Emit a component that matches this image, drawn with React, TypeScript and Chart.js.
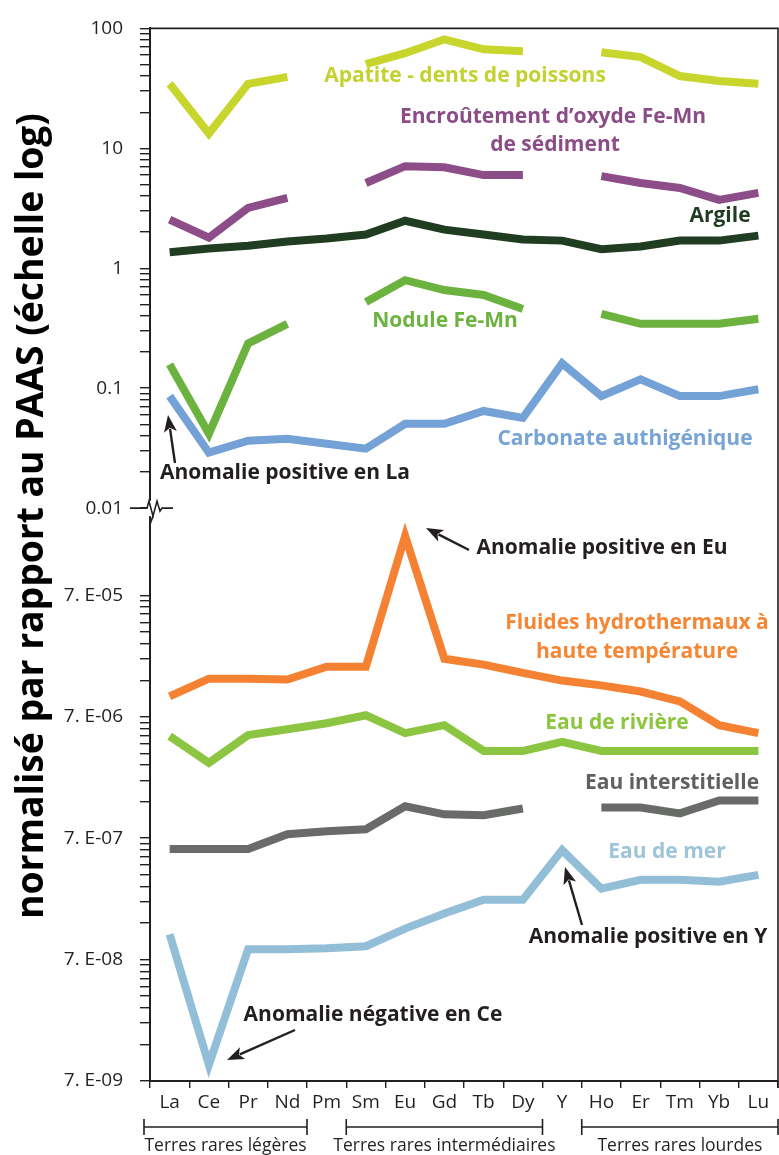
import React, { useEffect, useRef } from 'react';
import { Chart, registerables } from 'chart.js';

Chart.register(...registerables);

const FONT = '"Open Sans", "DejaVu Sans", sans-serif';
const INK = '#231f20';

// ---------- data ----------
const elements = ['La', 'Ce', 'Pr', 'Nd', 'Pm', 'Sm', 'Eu', 'Gd', 'Tb', 'Dy', 'Y', 'Ho', 'Er', 'Tm', 'Yb', 'Lu'];

// upper panel (0.01 – 100)
const apatite = [34.5, 13.3, 34.5, 39.4, null, 50.4, 62.1, 81.1, 67.0, 64.5, null, 63.3, 57.6, 40.1, 36.5, 34.5];
const encroutement = [2.54, 1.8, 3.19, 3.86, null, 5.14, 7.1, 6.95, 5.98, 5.98, null, 5.87, 5.14, 4.67, 3.72, 4.25];
const argile = [1.36, 1.46, 1.54, 1.67, 1.77, 1.91, 2.49, 2.1, 1.91, 1.74, 1.7, 1.44, 1.52, 1.7, 1.7, 1.87];
const nodule = [0.158, 0.0417, 0.236, 0.344, null, 0.524, 0.796, 0.658, 0.598, 0.458, null, 0.417, 0.344, 0.344, 0.344, 0.379];
const carbonate = [0.0859, 0.029, 0.0365, 0.0379, 0.0344, 0.0313, 0.0504, 0.0504, 0.0646, 0.0565, 0.161, 0.0859, 0.1186, 0.0859, 0.0859, 0.0981];

// lower panel (7E-09 – ...)
const fluides = [1.03e-5, 1.44e-5, 1.44e-5, 1.42e-5, 1.81e-5, 1.81e-5, 2.16e-4, 2.1e-5, 1.88e-5, 1.61e-5, 1.39e-5, 1.27e-5, 1.13e-5, 9.37e-6, 5.97e-6, 5.13e-6];
const riviere = [4.85e-6, 2.92e-6, 4.94e-6, 5.53e-6, 6.19e-6, 7.2e-6, 5.13e-6, 5.97e-6, 3.66e-6, 3.66e-6, 4.34e-6, 3.66e-6, 3.66e-6, 3.66e-6, 3.66e-6, 3.66e-6];
const interstitielle = [5.69e-7, 5.69e-7, 5.69e-7, 7.55e-7, 7.98e-7, 8.29e-7, 1.28e-6, 1.1e-6, 1.08e-6, 1.23e-6, null, 1.25e-6, 1.25e-6, 1.12e-6, 1.43e-6, 1.43e-6];
const eauMer = [1.13e-7, 9.5e-9, 8.53e-8, 8.53e-8, 8.69e-8, 9.02e-8, 1.26e-7, 1.68e-7, 2.18e-7, 2.18e-7, 5.59e-7, 2.69e-7, 3.18e-7, 3.18e-7, 3.06e-7, 3.49e-7];

// axis ticks
const upperMajorTicks = [0.01, 0.1, 1, 10, 100];
const upperTickLabels = ['0.01', '0.1', '1', '10', '100'];
const lowerMajorTicks = [7e-9, 7e-8, 7e-7, 7e-6, 7e-5];
const lowerTickLabels = ['7. E-09', '7. E-08', '7. E-07', '7. E-06', '7. E-05'];
const minorMultipliers = [2, 3, 4, 5, 6, 7, 8, 9];
const upperRange = [0.01, 100];
const lowerRange = [7e-9, 3.66e-4];

const yTitle = 'normalisé par rapport au PAAS (échelle log)';

const groupLabels = ['Terres rares légères', 'Terres rares intermédiaires', 'Terres rares lourdes'];
const groupFrom = [0, 5, 11];
const groupTo = [3, 9, 15];

// ---------- presentation ----------
const series = [
  { label: 'Apatite - dents de poissons', data: apatite, color: '#c8d52c', axis: 'yHigh' },
  { label: 'Encroûtement d’oxyde Fe-Mn de sédiment', data: encroutement, color: '#8c4d88', axis: 'yHigh' },
  { label: 'Argile', data: argile, color: '#203d21', axis: 'yHigh' },
  { label: 'Nodule Fe-Mn', data: nodule, color: '#6cb23f', axis: 'yHigh' },
  { label: 'Carbonate authigénique', data: carbonate, color: '#74a1d6', axis: 'yHigh' },
  { label: 'Fluides hydrothermaux à haute température', data: fluides, color: '#f58232', axis: 'yLow' },
  { label: 'Eau de rivière', data: riviere, color: '#8cc541', axis: 'yLow' },
  { label: 'Eau interstitielle', data: interstitielle, color: '#696b69', axis: 'yLow' },
  { label: 'Eau de mer', data: eauMer, color: '#93bed8', axis: 'yLow' },
];

const notes: [string, number, number, string][] = [
  ['Apatite - dents de poissons', 465, 76, '#c3d230'],
  ['Encroûtement d’oxyde Fe-Mn', 553, 117, '#8b4d87'],
  ['de sédiment', 555, 145, '#8b4d87'],
  ['Argile', 720, 216, '#1f3c21'],
  ['Nodule Fe-Mn', 445, 321, '#6db33f'],
  ['Carbonate authigénique', 625, 439, '#77a3d6'],
  ['Anomalie positive en La', 285, 473, INK],
  ['Anomalie positive en Eu', 602, 548, INK],
  ['Fluides hydrothermaux à', 637, 623, '#f58634'],
  ['haute température', 637, 652, '#f58634'],
  ['Eau de rivière', 617, 723, '#8cc63e'],
  ['Eau interstitielle', 672, 783, '#5f615f'],
  ['Eau de mer', 667, 852, '#9ec4dc'],
  ['Anomalie positive en Y', 648, 937, INK],
  ['Anomalie négative en Ce', 373, 1015, INK],
];

const arrows: [number, number, number, number][] = [
  [175, 463, 168, 415],
  [469, 550, 426, 528],
  [582, 925, 565, 867],
  [295, 1030, 227, 1060],
];

function makeTicks(majors: number[], labels: string[]) {
  const out: any[] = [];
  majors.forEach((m, i) => {
    out.push({ value: m, major: false, lbl: labels[i] });
    if (i < majors.length - 1) {
      for (const k of minorMultipliers) out.push({ value: m * k, major: false, lbl: '' });
    }
  });
  return out.sort((a, b) => a.value - b.value);
}

function drawArrow(ctx: CanvasRenderingContext2D, x0: number, y0: number, x1: number, y1: number) {
  const a = Math.atan2(y1 - y0, x1 - x0);
  const hl = 17;
  const hw = 6.5;
  const c = Math.cos(a);
  const s = Math.sin(a);
  const bx = x1 - hl * c;
  const by = y1 - hl * s;
  ctx.beginPath();
  ctx.moveTo(x0, y0);
  ctx.lineTo(bx + 3 * c, by + 3 * s);
  ctx.stroke();
  ctx.beginPath();
  ctx.moveTo(x1, y1);
  ctx.lineTo(bx + hw * s, by - hw * c);
  ctx.lineTo(bx + 4 * c, by + 4 * s);
  ctx.lineTo(bx - hw * s, by + hw * c);
  ctx.closePath();
  ctx.fill();
}

const decor = {
  id: 'decor',
  afterDraw(chart: any) {
    const ctx: CanvasRenderingContext2D = chart.ctx;
    const { left, right, top, bottom } = chart.chartArea;
    const xs = chart.scales.x;
    const yH = chart.scales.yHigh;
    ctx.save();
    ctx.strokeStyle = INK;
    ctx.fillStyle = INK;
    ctx.lineWidth = 1.6;
    // frame top & right
    ctx.beginPath();
    ctx.moveTo(left, top);
    ctx.lineTo(right, top);
    ctx.lineTo(right, bottom + 7);
    ctx.stroke();

    // axis break
    const by = yH.bottom;
    ctx.fillStyle = '#ffffff';
    ctx.fillRect(left - 3, by - 8, 6, 16);
    ctx.beginPath();
    ctx.moveTo(left - 20, by);
    ctx.lineTo(left - 3, by);
    ctx.lineTo(left - 1, by - 7);
    ctx.lineTo(left + 3, by + 8);
    ctx.lineTo(left + 7, by - 7);
    ctx.lineTo(left + 10, by + 3);
    ctx.lineTo(left + 12, by);
    ctx.lineTo(left + 23, by);
    ctx.stroke();
    ctx.beginPath();
    ctx.moveTo(left, by - 16);
    ctx.lineTo(left, by - 7);
    ctx.moveTo(left + 3, by + 8);
    ctx.lineTo(left, by + 16);
    ctx.stroke();

    // group brackets
    const half = (xs.getPixelForValue(1) - xs.getPixelForValue(0)) / 2;
    const yb = bottom + 46;
    ctx.fillStyle = INK;
    ctx.font = `17.5px ${FONT}`;
    ctx.textAlign = 'center';
    ctx.textBaseline = 'middle';
    ctx.lineWidth = 1.6;
    groupLabels.forEach((lab, i) => {
      let x0 = xs.getPixelForValue(groupFrom[i]) - half;
      const x1 = Math.min(xs.getPixelForValue(groupTo[i]) + half, right);
      if (i === 0) x0 -= 6;
      ctx.beginPath();
      ctx.moveTo(x0, yb);
      ctx.lineTo(x1, yb);
      ctx.moveTo(x0, yb - 8);
      ctx.lineTo(x0, yb + 8);
      ctx.moveTo(x1, yb - 8);
      ctx.lineTo(x1, yb + 8);
      ctx.stroke();
      ctx.fillText(lab, (x0 + x1) / 2, bottom + 65);
    });

    // annotations
    ctx.font = `bold 21px ${FONT}`;
    for (const [t, x, y, col] of notes) {
      ctx.fillStyle = col;
      ctx.fillText(t, x, y);
    }
    ctx.fillStyle = INK;
    ctx.strokeStyle = INK;
    ctx.lineWidth = 2.4;
    for (const [x0, y0, x1, y1] of arrows) drawArrow(ctx, x0, y0, x1, y1);

    // y title, fitted to its length in the reference
    ctx.font = `bold 38px ${FONT}`;
    const w = ctx.measureText(yTitle).width;
    const fs = (38 * 806) / w;
    ctx.translate(43, 516);
    ctx.rotate(-Math.PI / 2);
    ctx.font = `bold ${fs.toFixed(2)}px ${FONT}`;
    ctx.fillStyle = '#000';
    ctx.textAlign = 'center';
    ctx.textBaseline = 'alphabetic';
    ctx.fillText(yTitle, 0, 0);
    ctx.restore();
  },
};

function yScale(range: number[], majors: number[], labels: string[], weight: number, order: number) {
  return {
    type: 'logarithmic',
    position: 'left',
    stack: 'ystack',
    stackWeight: weight,
    weight: order,
    min: range[0],
    max: range[1],
    afterFit: (s: any) => {
      s.width = 150;
    },
    afterBuildTicks: (s: any) => {
      s.ticks = makeTicks(majors, labels);
    },
    ticks: {
      autoSkip: false,
      padding: 17,
      color: INK,
      font: { size: 19, family: FONT },
      callback: (_v: any, i: number, t: any[]) => t[i].lbl,
    },
    grid: { drawOnChartArea: false, drawTicks: true, tickLength: 10, color: INK, lineWidth: 1.4 },
    border: { display: true, color: INK, width: 2 },
  };
}

export default function App() {
  const ref = useRef<HTMLCanvasElement>(null);
  useEffect(() => {
    const canvas = ref.current;
    if (!canvas) return;
    Chart.defaults.font.family = FONT;
    const chart = new Chart(canvas, {
      type: 'line',
      data: {
        labels: elements,
        datasets: series.map((s) => ({
          label: s.label,
          data: s.data,
          yAxisID: s.axis,
          borderColor: s.color,
          backgroundColor: s.color,
          borderWidth: 8,
          pointRadius: 0,
          pointHoverRadius: 0,
          fill: false,
          tension: 0,
          spanGaps: false,
          borderJoinStyle: 'miter',
          borderCapStyle: 'butt',
        })),
      } as any,
      options: {
        responsive: false,
        animation: false,
        devicePixelRatio: 1,
        layout: { padding: { top: 19, right: 1, bottom: 0, left: 0 } },
        plugins: { legend: { display: false }, tooltip: { enabled: false }, title: { display: false } },
        events: [],
        scales: {
          x: {
            type: 'category',
            offset: true,
            afterFit: (s: any) => {
              s.height = 74;
            },
            grid: { offset: true, drawOnChartArea: false, drawTicks: true, tickLength: 7, color: INK, lineWidth: 1.4 },
            border: { display: true, color: INK, width: 2 },
            ticks: { autoSkip: false, maxRotation: 0, padding: 3, color: INK, font: { size: 19, family: FONT } },
          },
          yLow: yScale(lowerRange, lowerMajorTicks, lowerTickLabels, 578, 0),
          yHigh: yScale(upperRange, upperMajorTicks, upperTickLabels, 484, 1),
        } as any,
      },
      plugins: [decor],
    });
    return () => chart.destroy();
  }, []);
  return (
    <div style={{ position: 'absolute', left: 0, top: 0, width: 779, height: 1155, background: '#fff' }}>
      <canvas ref={ref} width={779} height={1155} style={{ display: 'block', width: 779, height: 1155 }} />
    </div>
  );
}
